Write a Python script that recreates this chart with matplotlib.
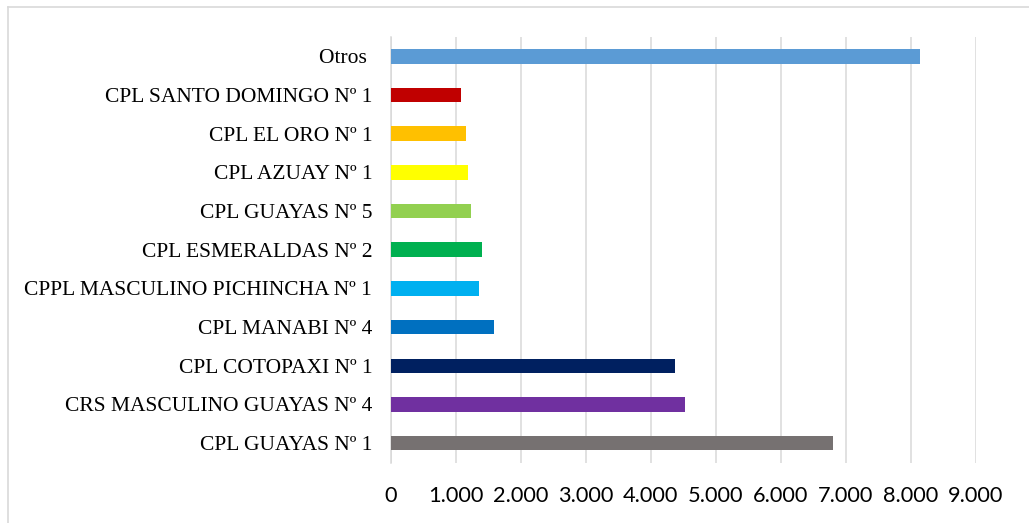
import matplotlib
matplotlib.use("Agg")
import matplotlib.pyplot as plt
from matplotlib.ticker import FuncFormatter, MultipleLocator
from matplotlib.lines import Line2D

categories = [
    "CPL GUAYAS Nº 1",
    "CRS MASCULINO GUAYAS Nº 4",
    "CPL COTOPAXI Nº 1",
    "CPL MANABI Nº 4",
    "CPPL MASCULINO PICHINCHA Nº 1",
    "CPL ESMERALDAS Nº 2",
    "CPL GUAYAS Nº 5",
    "CPL AZUAY Nº 1",
    "CPL EL ORO Nº 1",
    "CPL SANTO DOMINGO Nº 1",
    "Otros ",
]
values = [6800, 4519, 4367, 1578, 1351, 1397, 1238, 1179, 1162, 1085, 8142]
colors = ["#767171", "#7030A0", "#002060", "#0070C0", "#00B0F0", "#00B050",
          "#92D050", "#FFFF00", "#FFC000", "#C00000", "#5B9BD5"]

W, H = 1029, 523
fig = plt.figure(figsize=(W / 100, H / 100), dpi=100)
ax = fig.add_axes([391 / W, 1 - 462.5 / H, (975.7 - 391) / W, (462.5 - 37) / H])

y = list(range(len(categories)))
ax.barh(y, values, height=0.376, color=colors, zorder=3)

ax.set_xlim(0, 9000)
ax.set_ylim(-0.5, len(categories) - 0.5)
ax.xaxis.set_major_locator(MultipleLocator(1000))
ax.xaxis.set_major_formatter(FuncFormatter(lambda v, p: f"{int(v):,}".replace(",", ".")))
ax.grid(axis="x", color="#d9d9d9", linewidth=1.1, zorder=0)
ax.set_yticks(y)
ax.set_yticklabels(categories, fontfamily="Liberation Serif", fontsize=15.5, color="#000000")
for lbl in ax.get_xticklabels():
    lbl.set_fontfamily("Lato")
    lbl.set_fontsize(15.7)
    lbl.set_color("#000000")
ax.tick_params(axis="y", length=0, pad=13.5)
ax.tick_params(axis="x", length=0, pad=17)
for s in ["top", "right", "bottom"]:
    ax.spines[s].set_visible(False)
ax.spines["left"].set_color("#d9d9d9")
ax.spines["left"].set_linewidth(1.1)

# chart area border (only left and top edges are within the image)
fig.add_artist(Line2D([8 / W, 8 / W], [0, 1 - 7 / H], transform=fig.transFigure,
                      color="#d9d9d9", linewidth=1.2))
fig.add_artist(Line2D([8 / W, 1], [1 - 7 / H, 1 - 7 / H], transform=fig.transFigure,
                      color="#d9d9d9", linewidth=1.2))

fig.savefig("out.png", dpi=100)
